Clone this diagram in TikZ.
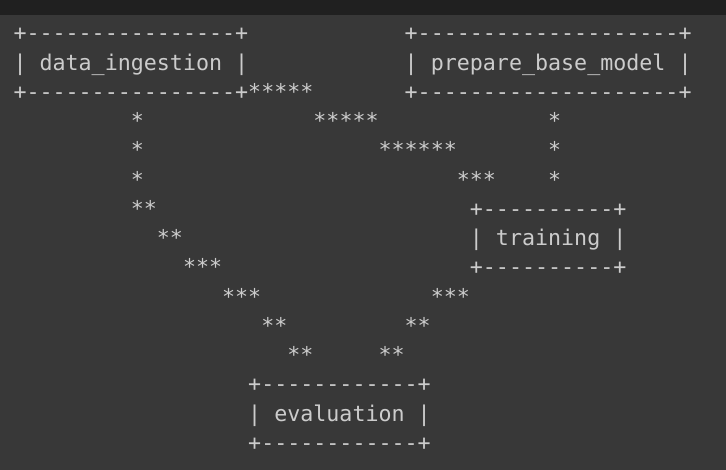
\documentclass[tikz,border=0pt]{standalone}
\usepackage{fontspec}
\newfontfamily\asciifont{DejaVu Sans Mono}
\definecolor{bg}{HTML}{383838}
\definecolor{topbar}{HTML}{202020}
\definecolor{fg}{HTML}{CCCCCC}
\newcount\dashcnt
\newcommand\dashrun[1]{\dashcnt=0 \loop -\kern0pt\advance\dashcnt by 1 \ifnum\dashcnt<#1 \repeat}
\newcommand\colx[1]{13.5+13.04*#1}
\newcommand\rowy[1]{429.1-29.25*#1}
\begin{document}
\begin{tikzpicture}[x=1pt,y=1pt,
  txt/.style={anchor=base west, inner sep=0pt, outer sep=0pt, text=fg,
    font=\asciifont\fontsize{21.66}{26}\selectfont}]
\useasboundingbox (0,0) rectangle (726,470);
\fill[bg] (0,0) rectangle (726,470);
\fill[topbar] (0,455) rectangle (726,470);
% data_ingestion box
\node[txt] (ditop) at ({\colx{0}},{\rowy{0}}) {+\dashrun{16}+};
\node[txt] (dimid) at ({\colx{0}},{\rowy{1}}) {| data\_ingestion |};
\node[txt] (dibot) at ({\colx{0}},{\rowy{2}}) {+\dashrun{16}+};
% prepare_base_model box
\node[txt] (pmtop) at ({\colx{30}},{\rowy{0}}) {+\dashrun{20}+};
\node[txt] (pmmid) at ({\colx{30}},{\rowy{1}}) {| prepare\_base\_model |};
\node[txt] (pmbot) at ({\colx{30}},{\rowy{2}}) {+\dashrun{20}+};
% training box
\node[txt] (trtop) at ({\colx{35}},{\rowy{6}}) {+\dashrun{10}+};
\node[txt] (trmid) at ({\colx{35}},{\rowy{7}}) {| training |};
\node[txt] (trbot) at ({\colx{35}},{\rowy{8}}) {+\dashrun{10}+};
% evaluation box
\node[txt] (evtop) at ({\colx{18}},{\rowy{12}}) {+\dashrun{12}+};
\node[txt] (evmid) at ({\colx{18}},{\rowy{13}}) {| evaluation |};
\node[txt] (evbot) at ({\colx{18}},{\rowy{14}}) {+\dashrun{12}+};
% asterisk paths
\node[txt] (a2) at ({\colx{18}},{\rowy{2}}) {*****};
\node[txt] (a3l) at ({\colx{9}},{\rowy{3}}) {*};
\node[txt] (a3m) at ({\colx{23}},{\rowy{3}}) {*****};
\node[txt] (a3r) at ({\colx{41}},{\rowy{3}}) {*};
\node[txt] (a4l) at ({\colx{9}},{\rowy{4}}) {*};
\node[txt] (a4m) at ({\colx{28}},{\rowy{4}}) {******};
\node[txt] (a4r) at ({\colx{41}},{\rowy{4}}) {*};
\node[txt] (a5l) at ({\colx{9}},{\rowy{5}}) {*};
\node[txt] (a5m) at ({\colx{34}},{\rowy{5}}) {***};
\node[txt] (a5r) at ({\colx{41}},{\rowy{5}}) {*};
\node[txt] (a6l) at ({\colx{9}},{\rowy{6}}) {**};
\node[txt] (a7l) at ({\colx{11}},{\rowy{7}}) {**};
\node[txt] (a8l) at ({\colx{13}},{\rowy{8}}) {***};
\node[txt] (a9l) at ({\colx{16}},{\rowy{9}}) {***};
\node[txt] (a9r) at ({\colx{32}},{\rowy{9}}) {***};
\node[txt] (a10l) at ({\colx{19}},{\rowy{10}}) {**};
\node[txt] (a10r) at ({\colx{30}},{\rowy{10}}) {**};
\node[txt] (a11l) at ({\colx{21}},{\rowy{11}}) {**};
\node[txt] (a11r) at ({\colx{28}},{\rowy{11}}) {**};
\end{tikzpicture}
\end{document}
